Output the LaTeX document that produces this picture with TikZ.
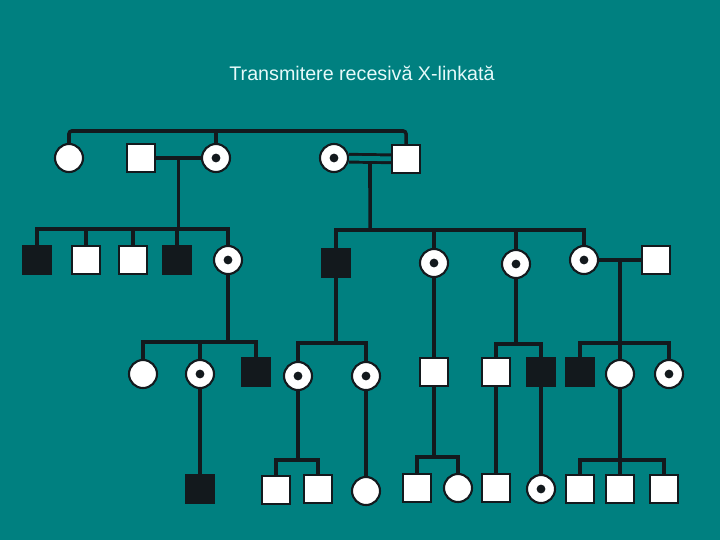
\documentclass[tikz,border=0pt]{standalone}
\usepackage{fontspec}
\setmainfont{Liberation Sans}
\usepackage{tikz}
\usetikzlibrary{positioning}
\definecolor{Teal}{HTML}{008080}
\definecolor{Ink}{HTML}{13191D}
\definecolor{Paper}{HTML}{E6FAFA}

\begin{document}
\begin{tikzpicture}[
    x=0.025cm, y=-0.025cm,
    person/.style={
        draw=Ink,
        line width=1.5pt,
        fill=white,
        minimum size=0.7cm,
        inner sep=0pt
    },
    male/.style={person, rectangle},
    female/.style={person, circle},
    affected/.style={male, fill=Ink},
    carrier/.style={
        female,
        path picture={\fill[Ink] (path picture bounding box.center) circle (1.1mm);}
    },
    famline/.style={draw=Ink, line width=2.5pt},
    consang/.style={draw=Ink, line width=2.1pt, double=Teal, double distance=3.4pt}
]
    \fill[Teal] (0,0) rectangle (720,540);

    \node[text=Paper, font=\fontsize{14}{17}\selectfont] (title) at (362,73) {Transmitere recesivă X-linkată};

    \node[female]   (a1) at (69,158) {};
    \node[male]     (a2) at (141,158) {};
    \node[carrier]  (a3) at (216,158) {};
    \node[carrier]  (a4) at (334,158) {};
    \node[male]     (a5) at (406,159) {};

    \node[affected] (b1) at (37,260) {};
    \node[male]     (b2) at (86,260) {};
    \node[male]     (b3) at (133,260) {};
    \node[affected] (b4) at (177,260) {};
    \node[carrier]  (b5) at (228,260) {};
    \node[affected] (b6) at (336,263) {};
    \node[carrier]  (b7) at (434,263) {};
    \node[carrier]  (b8) at (516,264) {};
    \node[carrier]  (b9) at (584,260) {};
    \node[male]     (b10) at (656,260) {};

    \node[female]   (c1) at (143,374) {};
    \node[carrier]  (c2) at (200,374) {};
    \node[affected] (c3) at (256,372) {};
    \node[carrier]  (c4) at (298,376) {};
    \node[carrier]  (c5) at (366,376) {};
    \node[male]     (c6) at (434,372) {};
    \node[male]     (c7) at (496,372) {};
    \node[affected] (c8) at (541,372) {};
    \node[affected] (c9) at (580,372) {};
    \node[female]   (c10) at (620,374) {};
    \node[carrier]  (c11) at (669,374) {};

    \node[affected] (d1) at (200,489) {};
    \node[male]     (d2) at (276,490) {};
    \node[male]     (d3) at (318,489) {};
    \node[female]   (d4) at (366,491) {};
    \node[male]     (d5) at (417,488) {};
    \node[female]   (d6) at (458,488) {};
    \node[male]     (d7) at (496,488) {};
    \node[carrier]  (d8) at (541,489) {};
    \node[male]     (d9) at (580,489) {};
    \node[male]     (d10) at (620,489) {};
    \node[male]     (d11) at (664,489) {};

    \coordinate (f0) at (216,131);
    \coordinate (f1) at (178,229);
    \coordinate (f2) at (370,230);
    \coordinate (f3) at (228,342);
    \coordinate (f4) at (336,343);
    \coordinate (f5) at (516,344);
    \coordinate (f6) at (620,343);
    \coordinate (f7) at (298,460);
    \coordinate (f8) at (434,457);
    \coordinate (f9) at (620,460);

    \draw[famline, rounded corners=2pt] (a1) |- (f0) -| (a5);
    \draw[famline] (a3) -- (f0);
    \draw[famline] (a2) -- coordinate (m1) (a3);
    \draw[famline] (m1) -- (m1 |- f1);
    \path (a4) -- coordinate (m2) (a5);
    \draw[famline] (m2) -- (f2);
    \draw[consang] (a4) -- (a5);

    \draw[famline] (b1) |- (f1) -| (b5);
    \draw[famline] (b2) -- (b2 |- f1);
    \draw[famline] (b3) -- (b3 |- f1);
    \draw[famline] (b4) -- (b4 |- f1);
    \draw[famline] (b6) |- (f2) -| (b9);
    \draw[famline] (b7) -- (b7 |- f2);
    \draw[famline] (b8) -- (b8 |- f2);
    \draw[famline] (b9) -- coordinate (m3) (b10);

    \draw[famline] (b5) -- (f3);
    \draw[famline] (c1) |- (f3) -| (c3);
    \draw[famline] (c2) -- (c2 |- f3);
    \draw[famline] (b6) -- (f4);
    \draw[famline] (c4) |- (f4) -| (c5);
    \draw[famline] (b7) -- (c6);
    \draw[famline] (b8) -- (f5);
    \draw[famline] (c7) |- (f5) -| (c8);
    \draw[famline] (m3) -- (f6);
    \draw[famline] (c9) |- (f6) -| (c11);
    \draw[famline] (c10) -- (f6);

    \draw[famline] (c2) -- (d1);
    \draw[famline] (c4) -- (f7);
    \draw[famline] (d2) |- (f7) -| (d3);
    \draw[famline] (c5) -- (d4);
    \draw[famline] (c6) -- (f8);
    \draw[famline] (d5) |- (f8) -| (d6);
    \draw[famline] (c7) -- (d7);
    \draw[famline] (c8) -- (d8);
    \draw[famline] (c10) -- (f9);
    \draw[famline] (d9) |- (f9) -| (d11);
    \draw[famline] (d10) -- (f9);
\end{tikzpicture}
\end{document}
